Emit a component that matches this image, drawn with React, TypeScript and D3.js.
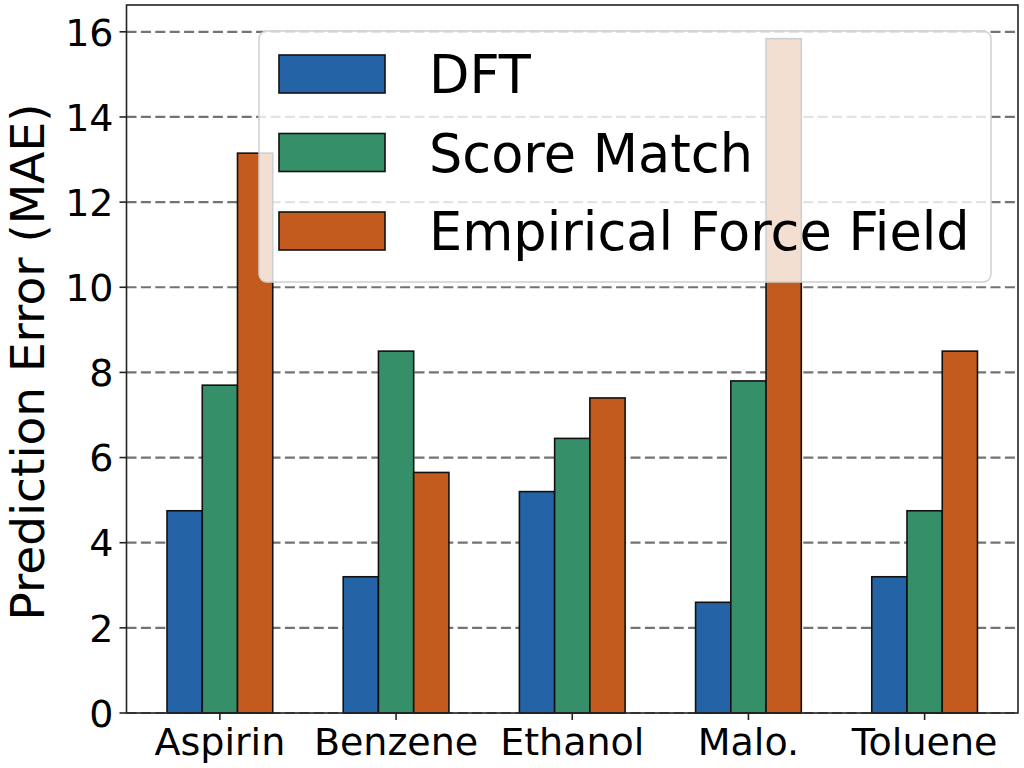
import React, { useEffect, useRef } from 'react';
import * as d3 from 'd3';

const molecules = ['Aspirin', 'Benzene', 'Ethanol', 'Malo.', 'Toluene'];
const seriesNames = ['DFT', 'Score Match', 'Empirical Force Field'];
const dftValues = [4.75, 3.2, 5.2, 2.6, 3.2];
const scoreMatchValues = [7.7, 8.5, 6.45, 7.8, 4.75];
const forceFieldValues = [13.15, 5.65, 7.4, 15.84, 8.5];
const yTicks = [0, 2, 4, 6, 8, 10, 12, 14, 16];
const colors = ['#2463a5', '#35906a', '#c45b1e'];

const FONT = 'DejaVu Sans, sans-serif';

export default function App() {
  const svgRef = useRef<SVGSVGElement>(null);

  useEffect(() => {
    const w = 1024;
    const h = 768;
    const left = 126.5;
    const right = 1018;
    const top = 5;
    const bottom = 713;
    const svg = d3.select(svgRef.current).attr('width', w).attr('height', h);
    svg.selectAll('*').remove();

    const x = d3.scaleLinear().domain([-0.53, 4.53]).range([left, right]);
    const y = d3.scaleLinear().domain([0, 16.63]).range([bottom, top]);
    const barW = 0.2;
    const series = [dftValues, scoreMatchValues, forceFieldValues];

    // grid
    svg
      .append('g')
      .selectAll('line')
      .data(yTicks)
      .join('line')
      .attr('x1', left)
      .attr('x2', right)
      .attr('y1', (d) => y(d))
      .attr('y2', (d) => y(d))
      .attr('stroke', '#737373')
      .attr('stroke-width', 2.2)
      .attr('stroke-dasharray', '10,4.4');

    // bars
    series.forEach((vals, j) => {
      svg
        .append('g')
        .selectAll('rect')
        .data(vals)
        .join('rect')
        .attr('x', (d, i) => x(i + (j - 1) * barW - barW / 2))
        .attr('width', x(barW) - x(0))
        .attr('y', (d) => y(d))
        .attr('height', (d) => y(0) - y(d))
        .attr('fill', colors[j])
        .attr('stroke', '#111')
        .attr('stroke-width', 1.6);
    });

    // spines
    svg
      .append('rect')
      .attr('x', left)
      .attr('y', top)
      .attr('width', right - left)
      .attr('height', bottom - top)
      .attr('fill', 'none')
      .attr('stroke', '#222')
      .attr('stroke-width', 1.6);

    // y ticks
    const yg = svg.append('g');
    yg.selectAll('line')
      .data(yTicks)
      .join('line')
      .attr('x1', left - 7)
      .attr('x2', left)
      .attr('y1', (d) => y(d))
      .attr('y2', (d) => y(d))
      .attr('stroke', '#222')
      .attr('stroke-width', 1.6);
    yg.selectAll('text')
      .data(yTicks)
      .join('text')
      .attr('x', left - 13)
      .attr('y', (d) => y(d))
      .attr('dy', '0.36em')
      .attr('text-anchor', 'end')
      .attr('font-family', FONT)
      .attr('font-size', 38)
      .text((d) => d);

    // x ticks
    const xg = svg.append('g');
    xg.selectAll('line')
      .data(molecules)
      .join('line')
      .attr('x1', (d, i) => x(i))
      .attr('x2', (d, i) => x(i))
      .attr('y1', bottom)
      .attr('y2', bottom + 7)
      .attr('stroke', '#222')
      .attr('stroke-width', 1.6);
    xg.selectAll('text')
      .data(molecules)
      .join('text')
      .attr('x', (d, i) => x(i))
      .attr('y', 755)
      .attr('text-anchor', 'middle')
      .attr('font-family', FONT)
      .attr('font-size', 38)
      .text((d) => d);

    // y label
    svg
      .append('text')
      .attr('transform', `translate(44,362) rotate(-90)`)
      .attr('text-anchor', 'middle')
      .attr('font-family', FONT)
      .attr('font-size', 47)
      .text('Prediction Error (MAE)');

    // legend
    const lg = svg.append('g');
    lg.append('rect')
      .attr('x', 259)
      .attr('y', 31)
      .attr('width', 732)
      .attr('height', 251)
      .attr('rx', 8)
      .attr('fill', 'white')
      .attr('fill-opacity', 0.8)
      .attr('stroke', '#d0d0d0')
      .attr('stroke-width', 1.5);
    seriesNames.forEach((name, j) => {
      const cy = 74 + j * 78.5;
      lg.append('rect')
        .attr('x', 279)
        .attr('y', cy - 19)
        .attr('width', 106)
        .attr('height', 38)
        .attr('fill', colors[j])
        .attr('stroke', '#111')
        .attr('stroke-width', 1.6);
      lg.append('text')
        .attr('x', 429)
        .attr('y', cy + 19)
        .attr('font-family', FONT)
        .attr('font-size', 52.5)
        .text(name);
    });
  }, []);

  return (
    <div>
      <svg ref={svgRef} style={{ position: 'absolute', left: 0, top: 0, background: '#fff' }}></svg>
    </div>
  );
}
